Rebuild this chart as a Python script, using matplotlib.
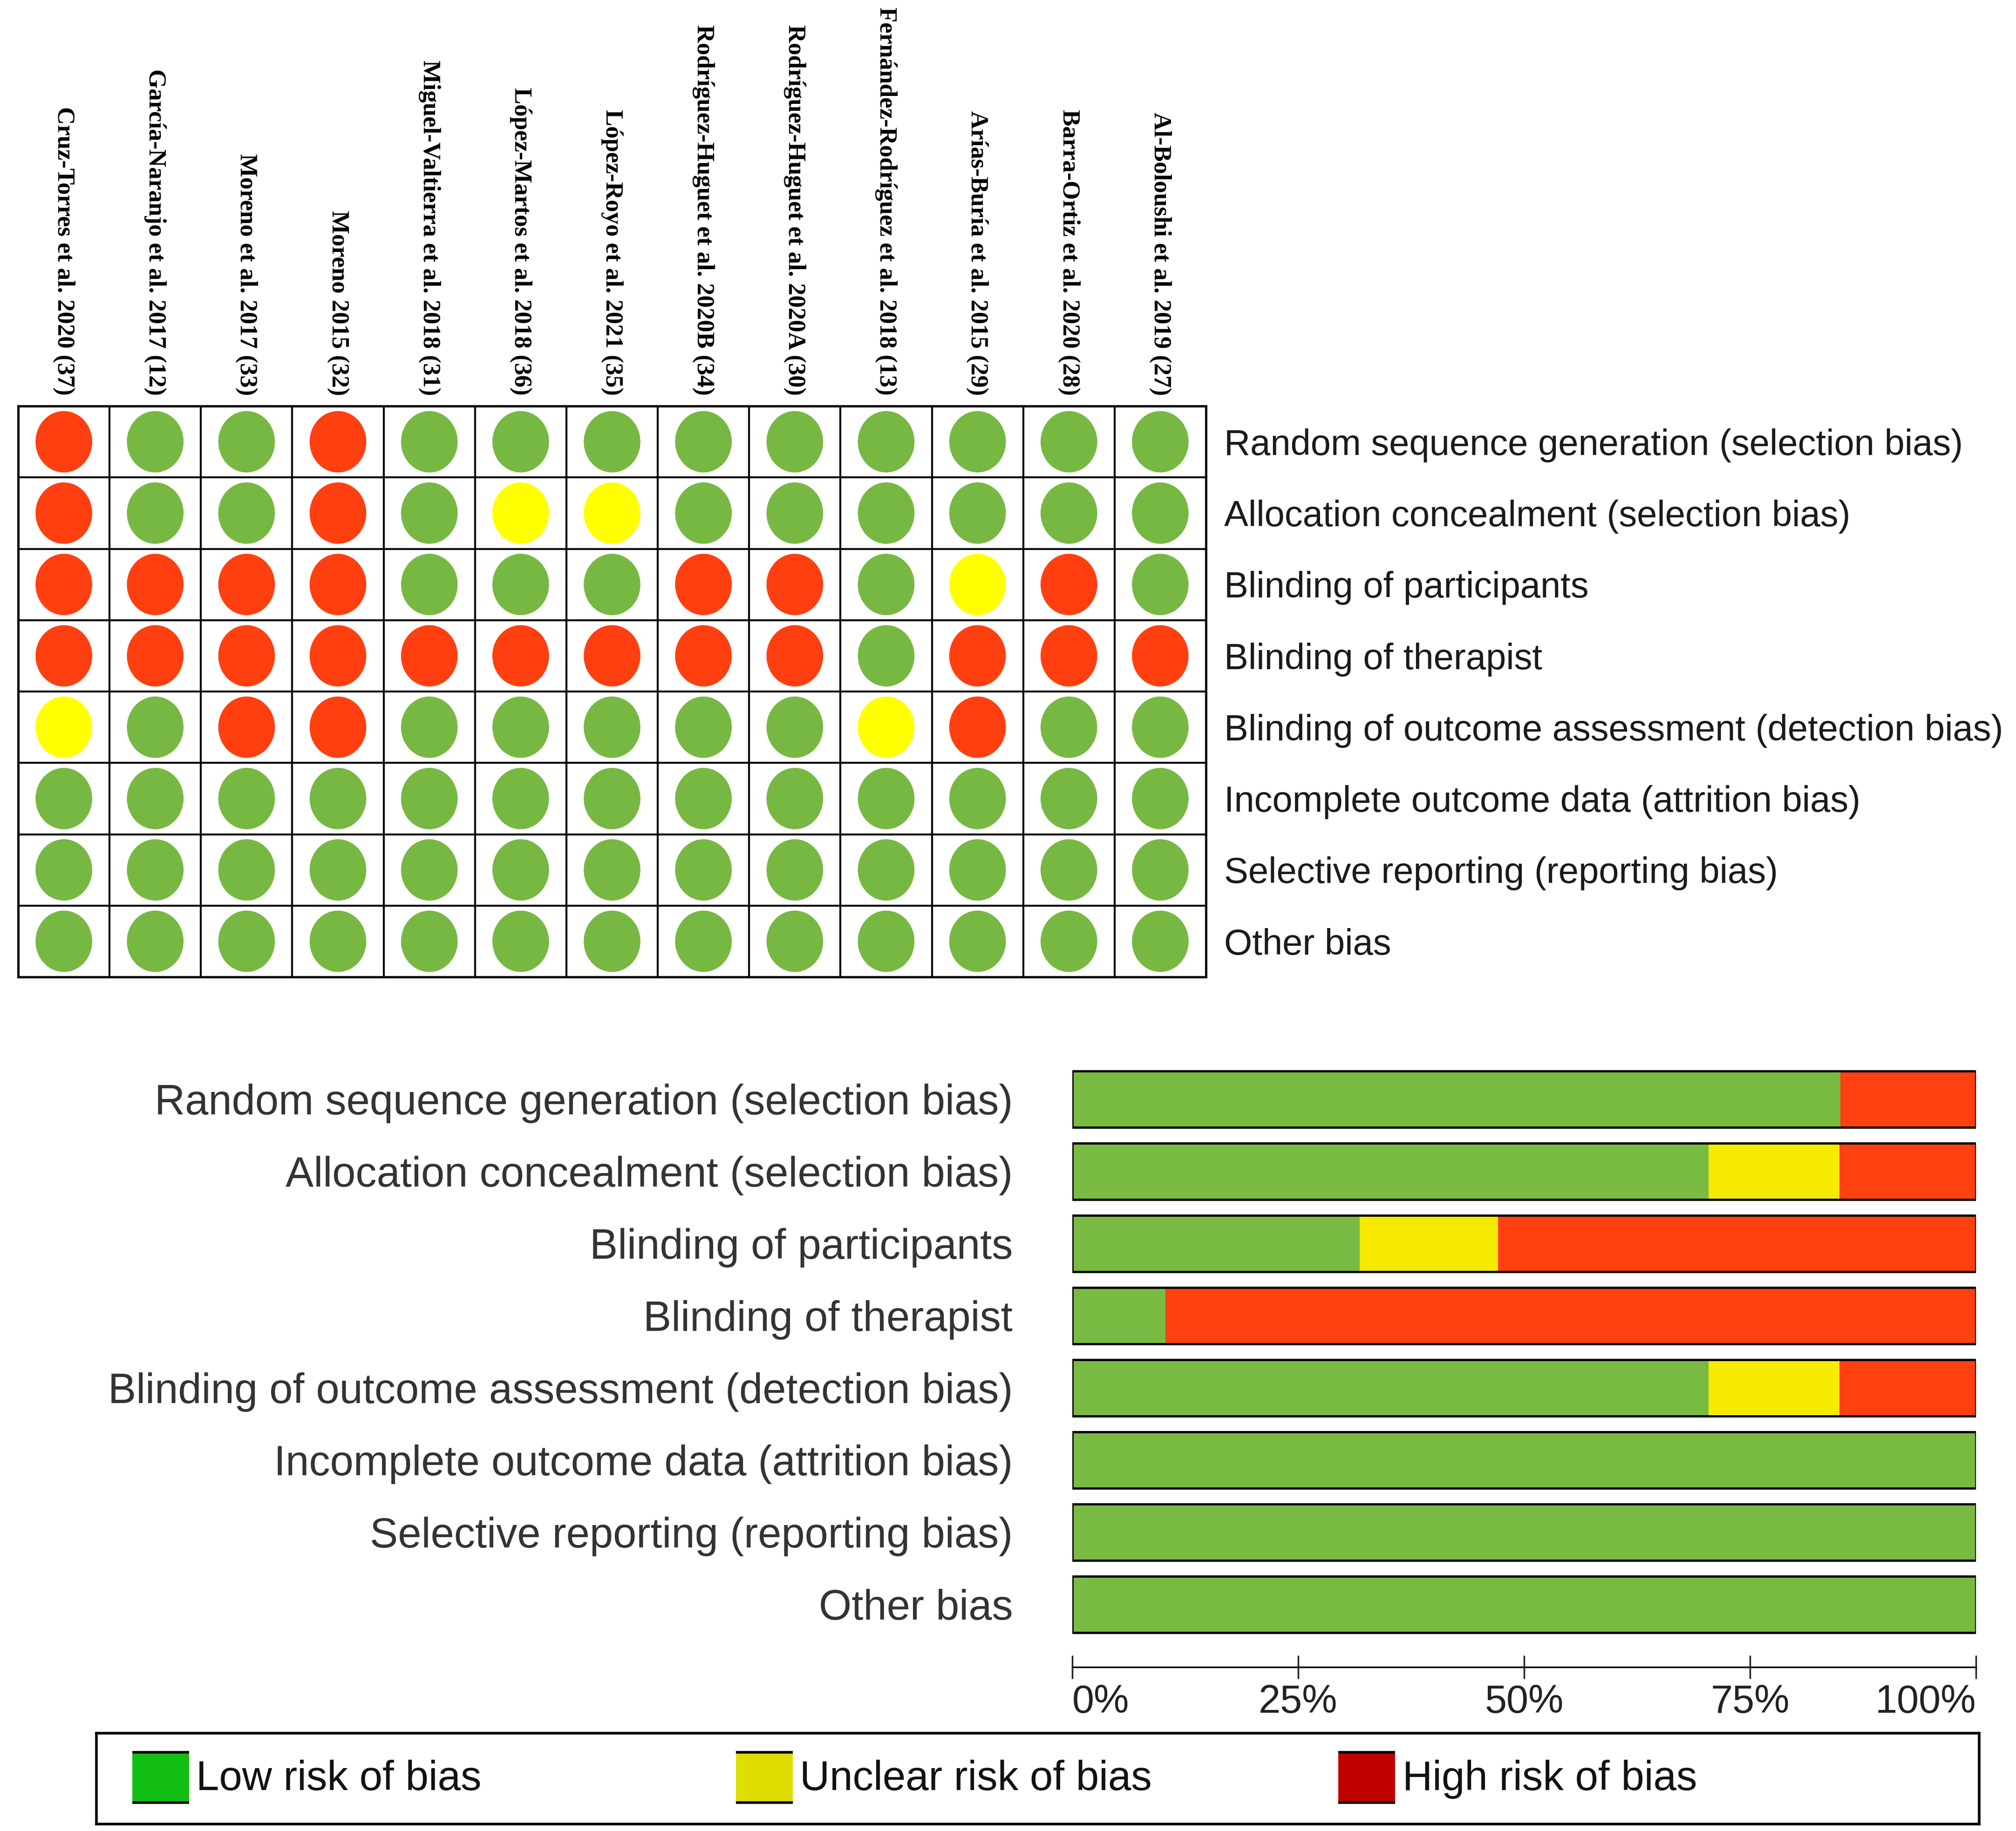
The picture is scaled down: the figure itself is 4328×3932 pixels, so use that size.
import numpy as np
import matplotlib
matplotlib.use("Agg")
import matplotlib.pyplot as plt
from matplotlib.patches import Ellipse, Rectangle

plt.rcParams['font.family'] = ['Liberation Sans', 'DejaVu Sans']

# studies (columns of the traffic-light grid)
studies = ["Cruz-Torres et al. 2020 (37)", "García-Naranjo et al. 2017 (12)",
           "Moreno et al. 2017 (33)", "Moreno 2015 (32)",
           "Miguel-Valtierra et al. 2018 (31)", "López-Martos et al. 2018 (36)",
           "López-Royo et al. 2021 (35)", "Rodríguez-Huguet et al. 2020B (34)",
           "Rodríguez-Huguet et al. 2020A (30)", "Fernández-Rodríguez et al. 2018 (13)",
           "Arías-Buría et al. 2015 (29)", "Barra-Ortiz et al. 2020 (28)",
           "Al-Boloushi et al. 2019 (27)"]

domains = ["Random sequence generation (selection bias)",
           "Allocation concealment (selection bias)",
           "Blinding of participants",
           "Blinding of therapist",
           "Blinding of outcome assessment (detection bias)",
           "Incomplete outcome data (attrition bias)",
           "Selective reporting (reporting bias)",
           "Other bias"]

# L = low, U = unclear, H = high
judgements = [
    "HLLHLLLLLLLLL",
    "HLLHLUULLLLLL",
    "HHHHLLLHHLUHL",
    "HHHHHHHHHLHHH",
    "ULHHLLLLLUHLL",
    "LLLLLLLLLLLLL",
    "LLLLLLLLLLLLL",
    "LLLLLLLLLLLLL",
]

# summary bars (percent of studies)
low_pct = [85.0, 70.4, 31.8, 10.3, 70.4, 100, 100, 100]
unclear_pct = [0, 14.5, 15.3, 0, 14.5, 0, 0, 0]
high_pct = [15.0, 15.1, 52.9, 89.7, 15.1, 0, 0, 0]

legend_labels = ["Low risk of bias", "Unclear risk of bias", "High risk of bias"]

dot_colors = {"L": "#77B843", "U": "#FFFF00", "H": "#FF3F0F"}
bar_colors = ["#79BA43", "#F6EA00", "#FF4010"]
legend_colors = ["#11BE11", "#DDDD00", "#C00000"]

W, H = 4328, 3932
fig = plt.figure(figsize=(W / 100, H / 100), dpi=100)

# ---------- traffic-light grid ----------
ax1 = fig.add_axes([39 / W, 1 - 2098 / H, 2550 / W, 1226 / H])
n_rows, n_cols = len(domains), len(studies)
ax1.set_xlim(0, n_cols)
ax1.set_ylim(n_rows, 0)
ax1.set_xticks([])
ax1.set_yticks([])
for s in ax1.spines.values():
    s.set_linewidth(3.5)
ax1.vlines(np.arange(1, n_cols), 0, n_rows, colors="black", lw=3)
ax1.hlines(np.arange(1, n_rows), 0, n_cols, colors="black", lw=3)

for i, row in enumerate(judgements):
    for j, r in enumerate(row):
        ax1.add_patch(Ellipse((j + 0.5, i + 0.5), 0.62, 0.86,
                              facecolor=dot_colors[r], edgecolor="none"))

for j, name in enumerate(studies):
    ax1.text(j + 0.5, -0.15, name, rotation=270, ha="center", va="bottom",
             fontsize=38, fontweight="bold", family="Liberation Serif")

for i, d in enumerate(domains):
    ax1.text(n_cols + 0.2, i + 0.55, d, ha="left", va="center",
             fontsize=56, color="#1a1a1a")

# ---------- summary bars ----------
ax2 = fig.add_axes([2302 / W, 1 - 3580 / H, 1940 / W, 1330 / H])
y = np.arange(len(domains))
left = np.zeros(len(domains))
for vals, c in zip([low_pct, unclear_pct, high_pct], bar_colors):
    ax2.barh(y, vals, left=left, height=0.78, color=c, edgecolor="none")
    left += np.array(vals)
ax2.barh(y, 100, height=0.78, fill=False, edgecolor="black", lw=3.5)

ax2.set_xlim(0, 100)
ax2.set_ylim(7.87, -0.71)
for k in ["top", "right", "left"]:
    ax2.spines[k].set_visible(False)
ax2.spines["bottom"].set_linewidth(2.5)
ax2.set_xticks([0, 25, 50, 75, 100], labels=["0%", "25%", "50%", "75%", "100%"])
ax2.tick_params(axis="x", direction="inout", length=36, width=2.5,
                labelsize=61, pad=8, colors="#222222")
lbls = ax2.get_xticklabels()
lbls[0].set_ha("left")
lbls[-1].set_ha("right")
ax2.set_yticks(y, labels=domains)
ax2.tick_params(axis="y", length=0, pad=92, labelsize=65, labelcolor="#333333")

# ---------- legend ----------
ax3 = fig.add_axes([207 / W, 1 - 3917 / H, 4042 / W, 195 / H])
ax3.set_xlim(0, 1)
ax3.set_ylim(0, 1)
ax3.set_xticks([])
ax3.set_yticks([])
for s in ax3.spines.values():
    s.set_linewidth(4)
for x0, lab, c in zip([0.019, 0.3397, 0.6596], legend_labels, legend_colors):
    ax3.add_patch(Rectangle((x0, 0.236), 0.0302, 0.554, facecolor=c, edgecolor="none"))
    ax3.hlines([0.236, 0.79], x0, x0 + 0.0302, colors="black", lw=4)
    ax3.text(x0 + 0.034, 0.49, lab, ha="left", va="center", fontsize=64, color="#111111")

fig.savefig("out.png", dpi=100, facecolor="white")
